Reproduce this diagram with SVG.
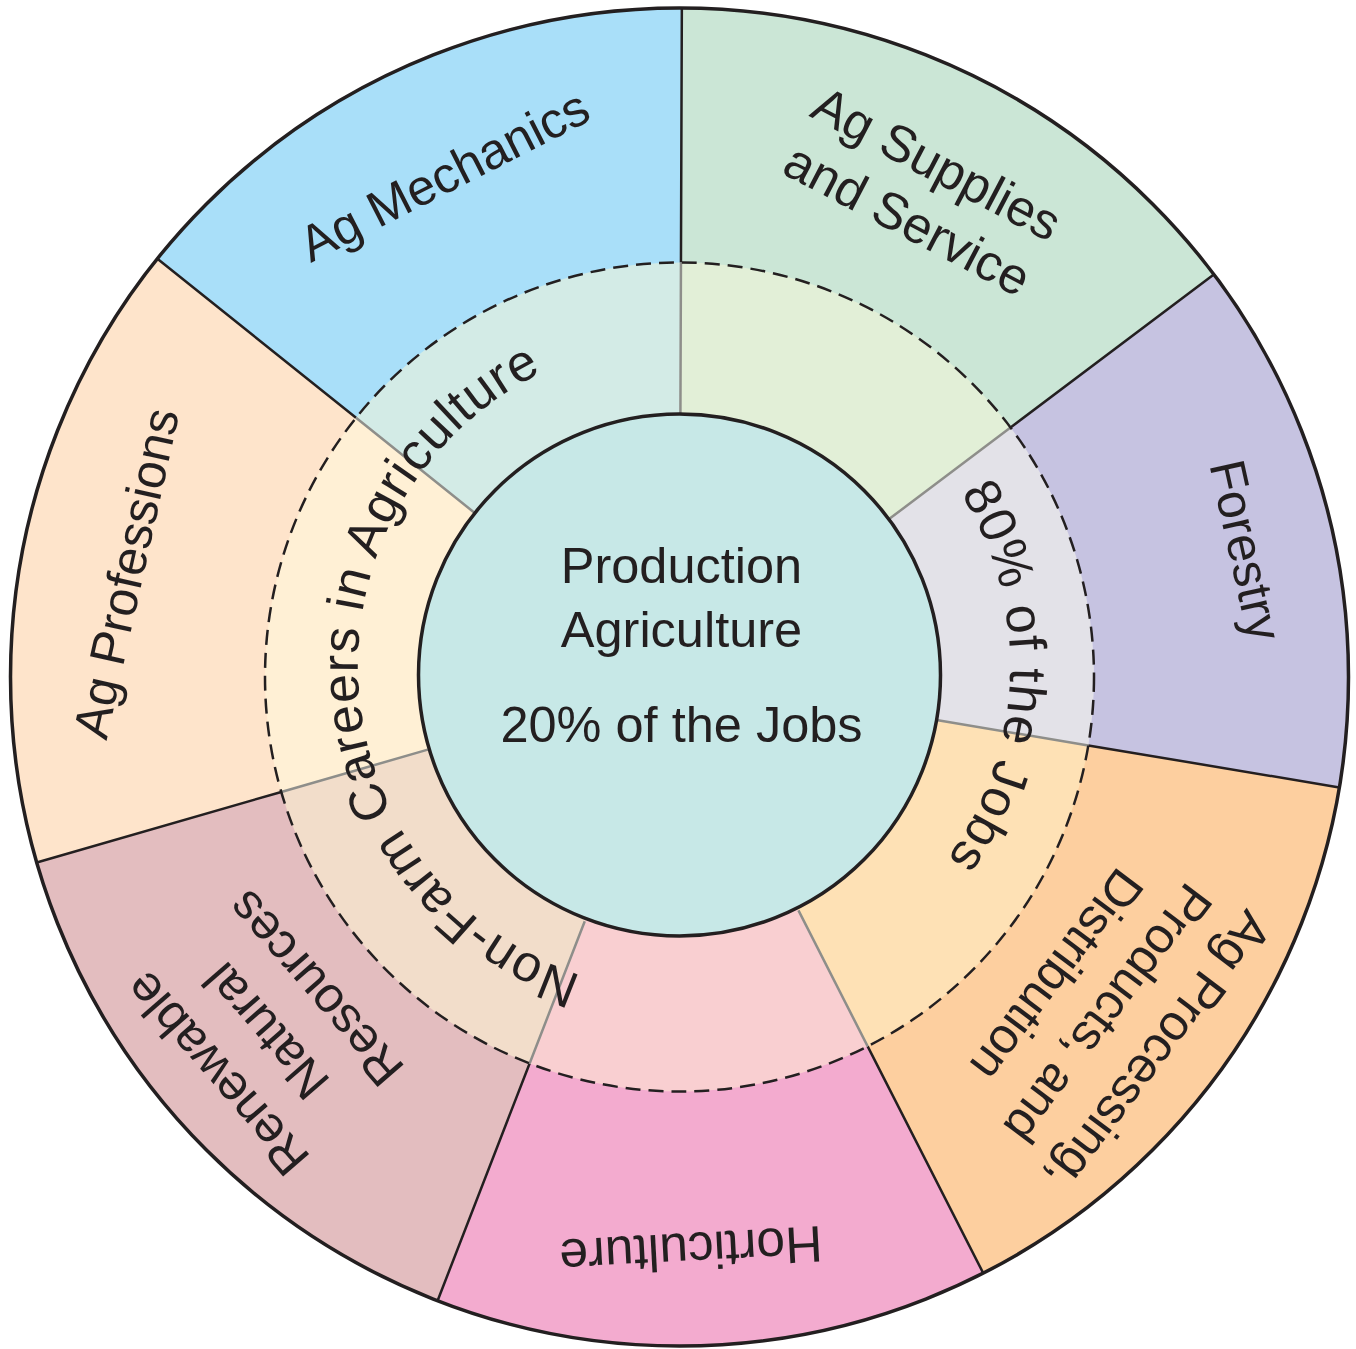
<svg xmlns="http://www.w3.org/2000/svg" xmlns:xlink="http://www.w3.org/1999/xlink" width="1356" height="1349" viewBox="0 0 1356 1349">
<style>
.lbl{font-family:"Liberation Sans",Arial,sans-serif;font-size:50px;fill:#231f20;text-anchor:middle}
.ctr{font-family:"Liberation Sans",Arial,sans-serif;font-size:50.5px;fill:#231f20;text-anchor:middle}
.arc{font-family:"Liberation Sans",Arial,sans-serif;font-size:52px;fill:#231f20}
.blk{stroke:#231f20;stroke-width:2.5;fill:none}
.gry{stroke:#8e8e8a;stroke-width:2.5;fill:none}
</style>
<defs>
<path id="tc" d="M684,340 A326,326 0 1 1 684,992 A326,326 0 1 1 684,340"/>
</defs>
<rect width="1356" height="1349" fill="#ffffff"/>
<g id="seg-ag-supplies">
<path d="M679.5,677 L681.84,8 A669,669 0 0 1 1213.79,274.38 Z" fill="#cbe6d6"/>
<path d="M679.5,677 L680.95,262.5 A414.5,414.5 0 0 1 1010.54,427.55 Z" fill="#e2efd7"/>
</g>
<g id="seg-forestry">
<path d="M679.5,677 L1213.79,274.38 A669,669 0 0 1 1339.33,787.42 Z" fill="#c6c3e1"/>
<path d="M679.5,677 L1010.54,427.55 A414.5,414.5 0 0 1 1088.32,745.41 Z" fill="#e3e2e8"/>
</g>
<g id="seg-ag-processing">
<path d="M679.5,677 L1339.33,787.42 A669,669 0 0 1 983.22,1273.09 Z" fill="#fdcf9f"/>
<path d="M679.5,677 L1088.32,745.41 A414.5,414.5 0 0 1 867.68,1046.32 Z" fill="#fee1b5"/>
</g>
<g id="seg-horticulture">
<path d="M679.5,677 L983.22,1273.09 A669,669 0 0 1 437.58,1300.72 Z" fill="#f3abcf"/>
<path d="M679.5,677 L867.68,1046.32 A414.5,414.5 0 0 1 529.61,1063.45 Z" fill="#f9cfd1"/>
</g>
<g id="seg-renewable">
<path d="M679.5,677 L437.58,1300.72 A669,669 0 0 1 36.74,862.52 Z" fill="#e3bdbf"/>
<path d="M679.5,677 L529.61,1063.45 A414.5,414.5 0 0 1 281.26,791.95 Z" fill="#f2ddca"/>
</g>
<g id="seg-ag-professions">
<path d="M679.5,677 L36.74,862.52 A669,669 0 0 1 157.39,258.71 Z" fill="#fee4cb"/>
<path d="M679.5,677 L281.26,791.95 A414.5,414.5 0 0 1 356.01,417.84 Z" fill="#fff0d5"/>
</g>
<g id="seg-ag-mechanics">
<path d="M679.5,677 L157.39,258.71 A669,669 0 0 1 681.84,8 Z" fill="#a9dff9"/>
<path d="M679.5,677 L356.01,417.84 A414.5,414.5 0 0 1 680.95,262.5 Z" fill="#d3ebe6"/>
</g>
<g id="dividers">
<path class="blk" d="M681.84,8 L680.95,262.5 M1213.79,274.38 L1010.54,427.55 M1339.33,787.42 L1088.32,745.41 M983.22,1273.09 L867.68,1046.32 M437.58,1300.72 L529.61,1063.45 M36.74,862.52 L281.26,791.95 M157.39,258.71 L356.01,417.84"/>
<path class="gry" d="M680.95,262.5 L680.41,415 M1010.54,427.55 L888.74,519.32 M1088.32,745.41 L937.91,720.24 M867.68,1046.32 L798.45,910.44 M529.61,1063.45 L584.76,921.27 M281.26,791.95 L427.78,749.65 M356.01,417.84 L475.03,513.19"/>
<circle cx="679.5" cy="677" r="414.5" fill="none" stroke="#231f20" stroke-width="2.5" stroke-dasharray="15 8"/>
<circle cx="679.5" cy="677" r="669" fill="none" stroke="#231f20" stroke-width="3.5"/>
</g>
<g id="center">
<circle cx="679.5" cy="675" r="261" fill="#c7e8e7" stroke="#231f20" stroke-width="3.5"/>
<text class="ctr" x="681.5" y="583">Production</text>
<text class="ctr" x="681.5" y="647">Agriculture</text>
<text class="ctr" x="681.5" y="742">20% of the Jobs</text>
</g>
<g id="labels">
<text class="lbl" style="font-size:50.5px" transform="translate(452,191) rotate(-27)">Ag Mechanics</text>
<text class="lbl" style="font-size:51px" transform="translate(914,207) rotate(27.7)"><tspan x="0" y="-31.6">Ag Supplies</tspan><tspan x="0" y="31.6">and Service</tspan></text>
<text class="lbl" transform="translate(1229,554) rotate(77.5)">Forestry</text>
<text class="lbl" transform="translate(1108,1013.5) rotate(127)"><tspan x="0" y="-47">Ag Processing,</tspan><tspan x="0" y="17">Products, and</tspan><tspan x="0" y="81">Distribution</tspan></text>
<text class="lbl" style="font-size:51.5px" transform="translate(690,1233) rotate(177)">Horticulture</text>
<text class="lbl" transform="translate(266,1031) rotate(-131)"><tspan x="0" y="-48">Renewable</tspan><tspan x="0" y="17">Natural</tspan><tspan x="0" y="82">Resources</tspan></text>
<text class="lbl" transform="translate(143,576.9) rotate(-77.5)">Ag Professions</text>
</g>
<g id="ring-labels">
<text class="arc" text-anchor="middle" letter-spacing="0.8"><textPath xlink:href="#tc" href="#tc" startOffset="73.97%">Non-Farm Careers in Agriculture</textPath></text>
<text class="arc" text-anchor="middle" letter-spacing="1.1"><textPath xlink:href="#tc" href="#tc" startOffset="25.6%">80% of the Jobs</textPath></text>
</g>
</svg>
